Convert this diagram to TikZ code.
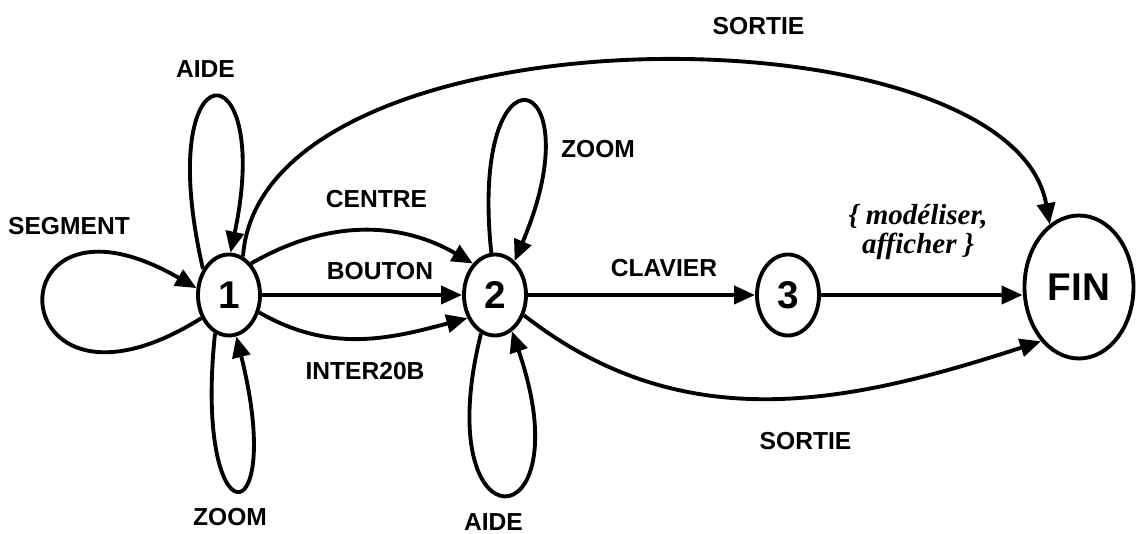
\documentclass[tikz,border=0pt]{standalone}
\usepackage{fontspec}
\setmainfont{Liberation Sans}
\newfontfamily\italfont{Liberation Serif}
\usetikzlibrary{shapes.geometric,arrows.meta}

\tikzstyle{etat} = [draw, ellipse, line width = 2.2pt, minimum width = 1.24cm, minimum height = 1.62cm, inner sep = 0pt, font = \fontsize{22}{22}\selectfont\bfseries]
\tikzstyle{etiq} = [inner sep = 0pt, font = \fontsize{14}{14}\selectfont\bfseries]
\tikzstyle{fleche} = [-{Triangle[length = 0.42cm, width = 0.36cm]}, line width = 2.2pt]

\begin{document}
\begin{tikzpicture}
		\useasboundingbox (0, 0) rectangle (22.74, 10.68);
		\node [etat] at (4.58, 4.78) (e1) {1};
		\node [etat] at (9.90, 4.78) (e2) {2};
		\node [etat] at (15.76, 4.78) (e3) {3};
		\node [etat, minimum width = 2.18cm, minimum height = 2.86cm] at (21.58, 4.94) (fin) {FIN};
		
		% etiquettes
		\node [etiq] at (1.38, 6.16) (lsegment) {SEGMENT};
		\node [etiq] at (4.11, 9.30) (laide1) {AIDE};
		\node [etiq] at (4.60, 0.33) (lzoom1) {ZOOM};
		\node [etiq] at (7.53, 6.70) (lcentre) {CENTRE};
		\node [etiq] at (7.60, 5.26) (lbouton) {BOUTON};
		\node [etiq] at (7.30, 3.26) (linter) {INTER20B};
		\node [etiq] at (11.96, 7.69) (lzoom2) {ZOOM};
		\node [etiq] at (9.87, 0.23) (laide2) {AIDE};
		\node [etiq] at (13.28, 5.32) (lclavier) {CLAVIER};
		\node [etiq] at (15.17, 10.16) (lsortie1) {SORTIE};
		\node [etiq] at (16.11, 1.86) (lsortie2) {SORTIE};
		\node [align = center, inner sep = 0pt, font = \italfont\bfseries\itshape\fontsize{16.5}{16}\selectfont] at (18.36, 6.04) (lmodel) {\{ modéliser,\\ afficher \}};
		
		% boucles
		\draw [fleche] (e1.220) to [out = 212, in = 150, distance = 4.8cm] (e1.168);
		\draw [fleche] (e1.135) to [out = 103, in = 78, out distance = 4.64cm, in distance = 4.25cm] (e1.88);
		\draw [fleche] (e1.250) to [out = 264, in = 284, distance = 4.2cm] (e1.280);
		\draw [fleche] (e2.95) to [out = 96, in = 67, out distance = 4.4cm, in distance = 4.2cm] (e2.60);
		\draw [fleche] (e2.250) to [out = 256, in = 289, distance = 4.5cm] (e2.295);
		
		% transitions
		\draw [fleche] (e1.55) to [out = 30, in = 150] (e2.125);
		\draw [fleche] (e1) -- (e2);
		\draw [fleche] (e1.330) to [out = -30, in = 195] (e2.220);
		\draw [fleche] (e2) -- (e3);
		\draw [fleche] (e3) -- (e3 -| fin.west);
		\draw [fleche] (e1.70) to [out = 86, in = 100, out distance = 5.1cm, in distance = 4.5cm] (fin.115);
		\draw [fleche] (e2.325) to [out = -38, in = 198] (fin.235);
	\end{tikzpicture}
\end{document}
